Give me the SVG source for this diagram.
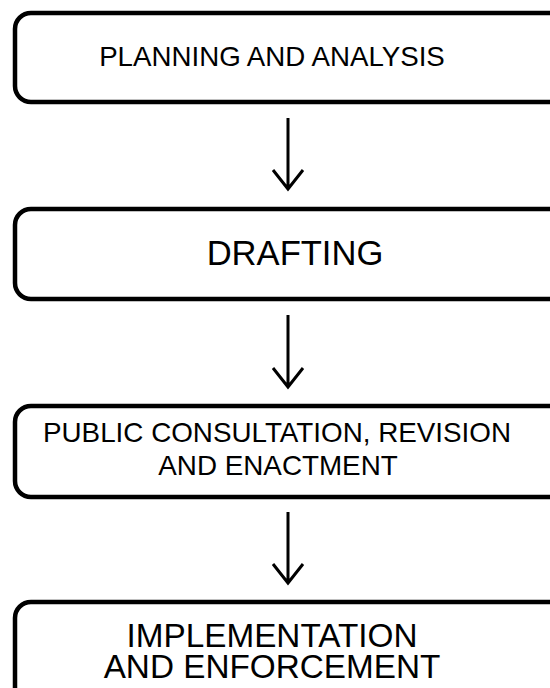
<svg xmlns="http://www.w3.org/2000/svg" width="550" height="688" viewBox="0 0 550 688">
<style>
.box{fill:#fff;stroke:#000;stroke-width:4.5}
.t{font-family:"Liberation Sans",Arial,sans-serif;fill:#000;text-anchor:middle}
.c{fill:none;stroke:#000;stroke-width:3}
</style>
<rect width="550" height="688" fill="#fff"/>
<g id="n1"><rect class="box" x="15" y="13" width="552" height="89" rx="16"/><text class="t" x="272" y="66" font-size="27.7">PLANNING AND ANALYSIS</text></g>
<g id="n2"><rect class="box" x="15" y="209" width="552" height="90" rx="16"/><text class="t" x="295" y="265" font-size="34.6">DRAFTING</text></g>
<g id="n3"><rect class="box" x="15" y="406" width="552" height="91" rx="16"/><text class="t" x="277" y="442" font-size="27.8">PUBLIC CONSULTATION, REVISION</text><text class="t" x="278" y="475" font-size="27.8">AND ENACTMENT</text></g>
<g id="n4"><rect class="box" x="15" y="602" width="552" height="110" rx="16"/><text class="t" x="272" y="647" font-size="33.3">IMPLEMENTATION</text><text class="t" x="272" y="678" font-size="33.3">AND ENFORCEMENT</text></g>
<g id="connectors">
<path class="c" d="M288 118V189M273 170L288 189L303 170"/>
<path class="c" d="M288 315V387M273 368L288 387L303 368"/>
<path class="c" d="M288 512V583M273 564L288 583L303 564"/>
</g>
</svg>
